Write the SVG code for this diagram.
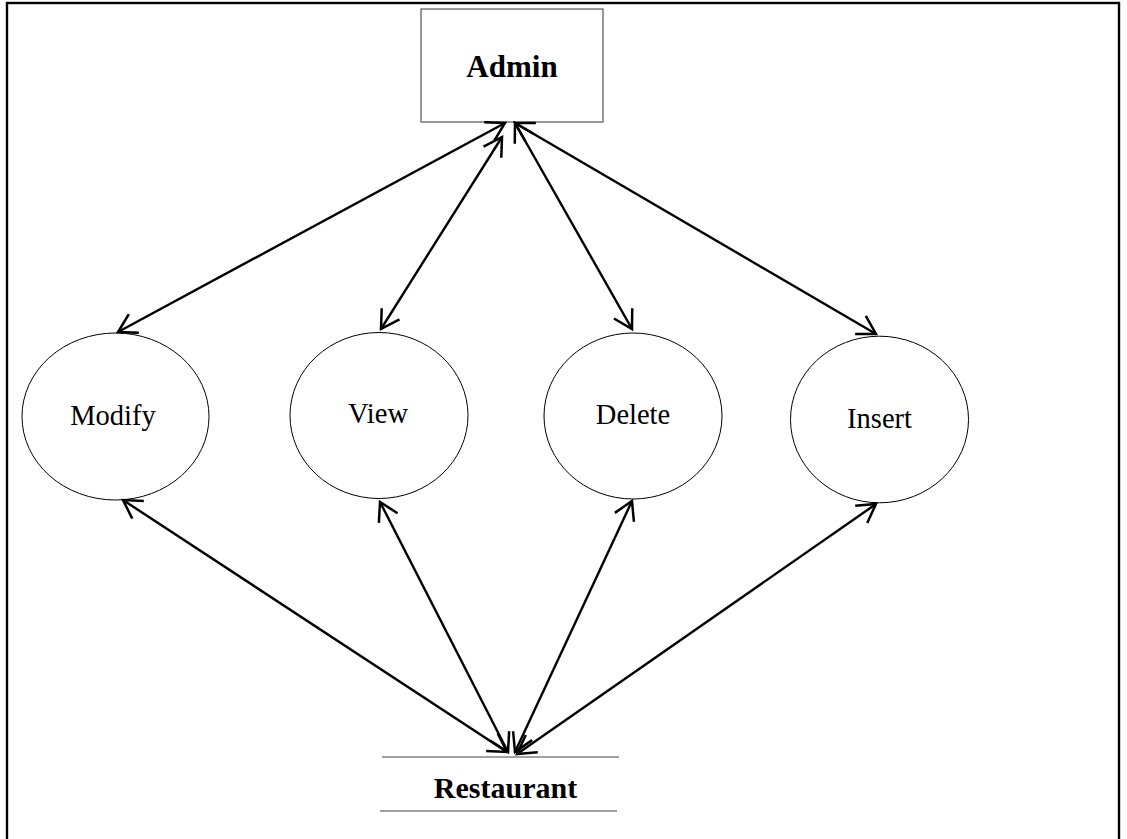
<svg xmlns="http://www.w3.org/2000/svg" width="1127" height="839" viewBox="0 0 1127 839">
<defs>
<marker id="arr" markerUnits="userSpaceOnUse" markerWidth="26" markerHeight="26" viewBox="-22 -13 26 26" refX="0" refY="0" orient="auto-start-reverse" overflow="visible">
<path d="M-18,-10.5 L0,0 L-18,10.5" fill="none" stroke="#000" stroke-width="2.5" stroke-linejoin="miter"/>
</marker>
</defs>
<style>
.node{fill:#fff;stroke:#000;stroke-width:1}
.lbl{font-family:"Liberation Serif","Times New Roman",serif;font-size:28.5px;fill:#000;text-anchor:middle}
.bold{font-weight:bold;font-size:31px}
.rest{font-size:30px}
.conn line{stroke:#000;stroke-width:2.4;marker-start:url(#arr);marker-end:url(#arr)}
.store{stroke:#444;stroke-width:1.2}
</style>
<rect width="1127" height="839" fill="#fff"/>
<rect x="7" y="3" width="1112" height="860" fill="none" stroke="#000" stroke-width="2.4"/>
<g id="admin">
<rect x="421" y="9" width="182" height="113" fill="#fff" stroke="#555" stroke-width="1.2"/>
<text class="lbl bold" x="512" y="77">Admin</text>
</g>
<g id="modify">
<ellipse class="node" cx="115.5" cy="416.5" rx="93.5" ry="83.5"/>
<text class="lbl" x="113" y="425">Modify</text>
</g>
<g id="view">
<ellipse class="node" cx="379" cy="415.5" rx="89" ry="83"/>
<text class="lbl" x="378" y="423">View</text>
</g>
<g id="delete">
<ellipse class="node" cx="633" cy="416" rx="89" ry="83"/>
<text class="lbl" x="633" y="424">Delete</text>
</g>
<g id="insert">
<ellipse class="node" cx="879.5" cy="419.5" rx="89" ry="83.3"/>
<text class="lbl" x="879.5" y="428">Insert</text>
</g>
<g id="restaurant">
<line class="store" x1="382" y1="757" x2="619" y2="757"/>
<line class="store" x1="380" y1="811" x2="617" y2="811"/>
<text class="lbl bold rest" x="505.5" y="798">Restaurant</text>
</g>
<g id="connectors" class="conn">
<line x1="505" y1="123" x2="118" y2="332"/>
<line x1="502" y1="137" x2="381" y2="329"/>
<line x1="515" y1="123" x2="632" y2="329"/>
<line x1="515" y1="123" x2="876" y2="334"/>
<line x1="123" y1="500" x2="507" y2="752"/>
<line x1="380" y1="502" x2="508" y2="752"/>
<line x1="632" y1="501" x2="515" y2="752"/>
<line x1="876" y1="504" x2="517" y2="754"/>
</g>
</svg>
